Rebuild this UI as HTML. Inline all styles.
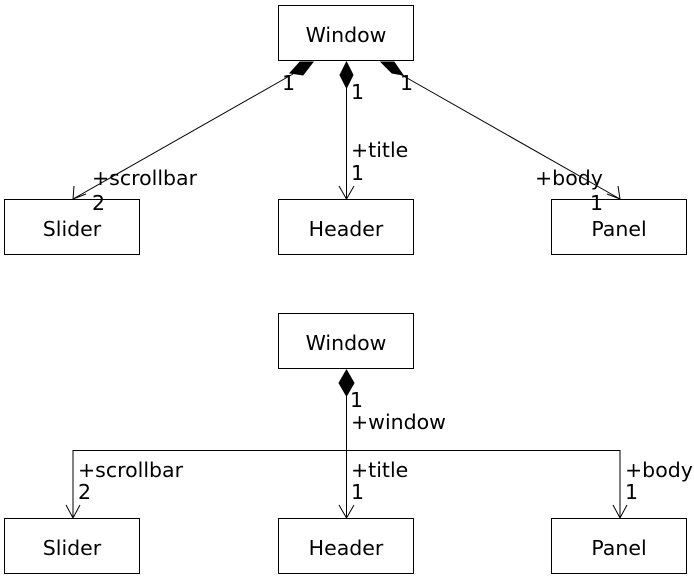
<!DOCTYPE html>
<html><head><style>
body{margin:0;background:#fff;}
svg text{font-family:"DejaVu Sans","Liberation Sans",sans-serif;font-size:20.5px;fill:#000;}
</style></head><body>
<svg width="694" height="578" viewBox="0 0 694 578" xmlns="http://www.w3.org/2000/svg">
<g fill="#fff" stroke="#000" stroke-width="1">
<rect x="278.5" y="5.5" width="135" height="55"/>
<rect x="4.5" y="199.5" width="135" height="55"/>
<rect x="278.5" y="199.5" width="135" height="55"/>
<rect x="551.5" y="199.5" width="135" height="55"/>
<rect x="278.5" y="313.5" width="135" height="55"/>
<rect x="4.5" y="518.5" width="135" height="55"/>
<rect x="278.5" y="518.5" width="135" height="55"/>
<rect x="551.5" y="518.5" width="135" height="55"/>
</g>
<g text-anchor="middle">
<text x="346" y="42">Window</text>
<text x="72" y="236">Slider</text>
<text x="346" y="236">Header</text>
<text x="619" y="236">Panel</text>
<text x="346" y="350">Window</text>
<text x="72" y="555">Slider</text>
<text x="346" y="555">Header</text>
<text x="619" y="555">Panel</text>
</g>
<g stroke="#000" stroke-width="1" fill="none">
<line x1="293" y1="74" x2="73" y2="199"/>
<line x1="346.5" y1="88" x2="346.5" y2="199"/>
<line x1="400" y1="74" x2="620" y2="199"/>
<polyline points="74,186 73,199 86,194"/>
<polyline points="339,186 346.5,199 354,186"/>
<polyline points="607,194 620,199 618,186"/>
<line x1="346.5" y1="396" x2="346.5" y2="518"/>
<polyline points="73,518 73,450.5 620,450.5 620,518"/>
<polyline points="66,505 73,518 80,505"/>
<polyline points="339,505 346.5,518 354,505"/>
<polyline points="613,505 620,518 627,505"/>
</g>
<g fill="#000" stroke="#000">
<polygon points="300,62 313,62 303,75 290,73"/>
<polygon points="381,62 394,62 403,75 392,73"/>
<polygon points="346.5,62 353,75 346.5,88 340,75"/>
<polygon points="346.5,370 354,383 346.5,396 339,383"/>
</g>
<text x="282" y="90">1</text>
<text x="351" y="99">1</text>
<text x="400" y="90">1</text>
<text x="92" y="185">+scrollbar</text>
<text x="92" y="210">2</text>
<text x="351" y="157">+title</text>
<text x="351" y="180">1</text>
<text x="535" y="185">+body</text>
<text x="590" y="210">1</text>
<text x="350" y="407">1</text>
<text x="351" y="429">+window</text>
<text x="78" y="477">+scrollbar</text>
<text x="78" y="499">2</text>
<text x="351" y="477">+title</text>
<text x="351" y="499">1</text>
<text x="625" y="477">+body</text>
<text x="625" y="499">1</text>
</svg>
</body></html>
